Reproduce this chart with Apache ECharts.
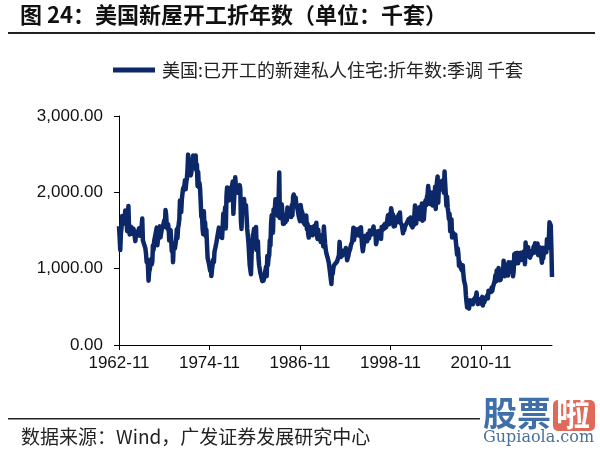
<!DOCTYPE html>
<html>
<head>
<meta charset="utf-8">
<script src="https://cdn.jsdelivr.net/npm/echarts@6/dist/echarts.min.js"></script>
<style>html,body{margin:0;padding:0;background:#fff;}#c{width:600px;height:456px;}</style>
</head>
<body>
<div id="c"></div>
<script>
const seriesName = '美国:已开工的新建私人住宅:折年数:季调 千套';
const startYear = 1962, startMonth = 11;
const values = [
// 1962 (Nov-Dec)
1556,1413,
// 1963
1244,1456,1534,1689,1641,1588,1614,1639,1763,1779,1622,1491,
// 1964
1603,1820,1517,1448,1467,1550,1562,1569,1455,1524,1486,1484,
// 1965
1361,1433,1423,1438,1478,1488,1529,1432,1482,1452,1460,1656,
// 1966
1370,1378,1394,1352,1265,1194,1086,1119,1046,843,961,990,
// 1967
1067,1123,1056,1091,1304,1248,1364,1407,1421,1491,1538,1308,
// 1968
1380,1520,1466,1554,1408,1405,1512,1495,1556,1569,1630,1548,
// 1969
1769,1705,1561,1524,1583,1528,1368,1358,1507,1381,1229,1327,
// 1970
1085,1305,1319,1264,1290,1385,1517,1399,1534,1580,1647,1893,
// 1971
1828,1741,1910,1986,2049,2026,2083,2158,2041,2128,2182,2295,
// 1972
2494,2390,2334,2249,2221,2254,2252,2382,2481,2485,2421,2366,
// 1973
2481,2289,2365,2084,2266,2067,2123,2051,1874,1677,1724,1526,
// 1974
1451,1752,1555,1607,1426,1513,1316,1142,1150,1070,1026,975,
// 1975
1032,904,993,1005,1121,1087,1226,1260,1264,1344,1360,1321,
// 1976
1367,1538,1421,1395,1459,1495,1401,1550,1720,1629,1641,1804,
// 1977
1527,1943,2063,1892,1971,1893,2058,2020,1949,2042,2042,2142,
// 1978
1718,1738,2032,2197,2075,2070,2092,1996,1970,1981,2094,2044,
// 1979
1630,1520,1847,1748,1876,1913,1760,1778,1832,1681,1524,1498,
// 1980
1341,1350,1047,1051,927,1196,1269,1436,1471,1523,1510,1482,
// 1981
1547,1246,1306,1360,1140,1045,1041,940,911,873,837,910,
// 1982
843,866,931,917,1025,902,1166,1046,1144,1173,1372,1303,
// 1983
1586,1699,1606,1472,1776,1733,1785,1910,1710,1715,1785,1688,
// 1984
1897,2260,1663,1851,1774,1843,1732,1586,1698,1590,1689,1612,
// 1985
1711,1632,1800,1821,1680,1676,1684,1743,1676,1834,1698,1942,
// 1986
1972,1848,1876,1933,1854,1847,1782,1807,1687,1681,1623,1833,
// 1987
1774,1784,1726,1614,1628,1594,1575,1605,1695,1515,1589,1459,
// 1988
1407,1549,1551,1547,1450,1541,1438,1469,1512,1563,1547,1496,
// 1989
1603,1427,1388,1511,1389,1441,1412,1350,1330,1388,1443,1292,
// 1990
1551,1428,1324,1245,1200,1222,1142,1134,1070,1046,1093,1054,
// 1991
798,965,931,1003,1043,1019,1063,1027,1030,1094,1070,1085,
// 1992
1178,1351,1240,1153,1162,1146,1139,1187,1239,1199,1199,1270,
// 1993
1192,1111,1099,1171,1216,1226,1264,1309,1297,1351,1369,1536,
// 1994
1376,1352,1519,1469,1438,1450,1430,1494,1526,1432,1482,1543,
// 1995
1398,1294,1228,1288,1286,1295,1430,1392,1388,1359,1458,1450,
// 1996
1398,1500,1494,1500,1447,1474,1494,1552,1451,1447,1490,1320,
// 1997
1355,1486,1457,1492,1442,1494,1437,1390,1546,1520,1510,1566,
// 1998
1525,1584,1567,1540,1536,1641,1698,1614,1582,1715,1660,1792,
// 1999
1748,1670,1710,1553,1611,1559,1669,1648,1635,1608,1648,1708,
// 2000
1636,1737,1604,1626,1575,1559,1463,1541,1507,1549,1551,1532,
// 2001
1600,1625,1590,1649,1605,1636,1670,1567,1562,1540,1602,1568,
// 2002
1698,1829,1642,1592,1764,1717,1655,1633,1804,1648,1753,1788,
// 2003
1853,1629,1726,1643,1751,1867,1897,1833,1939,1967,2083,2057,
// 2004
1911,1846,1998,2003,1981,1828,2002,2024,1905,2072,1782,2042,
// 2005
2144,2207,1864,2061,2025,2068,2054,2095,2151,2065,2147,1994,
// 2006
2273,2119,1969,1821,1942,1802,1737,1650,1720,1491,1570,1649,
// 2007
1409,1480,1495,1490,1415,1448,1354,1330,1183,1264,1197,1037,
// 2008
1084,1103,1005,1013,973,1046,923,844,820,777,652,560,
// 2009
490,582,505,478,540,585,594,586,585,534,588,581,
// 2010
614,604,636,687,583,536,546,599,594,543,545,539,
// 2011
630,517,600,554,561,608,623,585,650,610,711,694,
// 2012
723,704,695,753,708,757,740,754,847,915,833,976,
// 2013
888,962,1010,847,915,852,883,898,863,936,1105,1003,
// 2014
902,952,962,1052,987,909,1085,961,1025,1081,1007,1080,
// 2015
1071,900,963,1190,1058,1201,1151,1132,1207,1071,1188,1155,
// 2016
1114,1208,1113,1178,1136,1195,1223,1156,1058,1343,1162,1229,
// 2017
1236,1281,1182,1175,1144,1228,1178,1172,1159,1257,1294,1210,
// 2018
1334,1290,1327,1276,1329,1177,1184,1280,1237,1209,1187,1078,
// 2019
1273,1134,1199,1270,1269,1264,1215,1386,1274,1340,1383,1608,
// 2020 (Jan-Apr)
1617,1567,1276,891
];
// month labels built from start month, one per value
const categories = [];
{
  let y = startYear, m = startMonth;
  for (let i = 0; i < values.length; i++) {
    categories.push(y + '-' + (m < 10 ? '0' + m : m));
    m++; if (m > 12) { m = 1; y++; }
  }
}
const yMin = 0, yMax = 3000, yStep = 1000;
const labelEvery = 144;

const chart = echarts.init(document.getElementById('c'), null, {renderer: 'canvas'});
const fmt = v => Number(v).toLocaleString('en-US', {minimumFractionDigits: 2, maximumFractionDigits: 2});
const latin = 'Arial';
const cjk = 'Noto Sans CJK SC';
chart.setOption({
  animation: false,
  backgroundColor: '#fff',
  grid: {left: 119, right: 48, top: 116, bottom: 111, containLabel: false},
  legend: {
    show: true, left: 113, top: 61, padding: 0, icon: 'rect', itemWidth: 42, itemHeight: 5, itemGap: 6,
    textStyle: {fontFamily: cjk, fontSize: 18, color: '#222', padding: [0, 0, 0, 2]},
    data: [seriesName]
  },
  xAxis: {
    type: 'category', data: categories, boundaryGap: false,
    axisLine: {lineStyle: {color: '#000', width: 1}},
    axisTick: {interval: labelEvery - 1, length: 5, lineStyle: {color: '#000'}},
    axisLabel: {interval: labelEvery - 1, color: '#111', fontFamily: latin, fontSize: 17, margin: 10},
    splitLine: {show: false}
  },
  yAxis: {
    type: 'value', min: yMin, max: yMax, interval: yStep,
    axisLine: {show: true, lineStyle: {color: '#000', width: 1}},
    axisTick: {show: true, length: 5, lineStyle: {color: '#000'}},
    axisLabel: {formatter: fmt, color: '#111', fontFamily: latin, fontSize: 17, margin: 16},
    splitLine: {show: false}
  },
  series: [{
    name: seriesName, type: 'line', data: values, showSymbol: false, symbol: 'none',
    lineStyle: {color: '#0d2869', width: 4.5, join: 'round'},
    itemStyle: {color: '#0d2869'}
  }],
  graphic: [
    {type: 'text', left: 20, top: 4, style: {text: '图 24：美国新屋开工折年数（单位：千套）', font: 'bold 22px "Noto Sans CJK SC"', fill: '#111'}},
    {type: 'rect', shape: {x: 8, y: 32, width: 587, height: 2}, style: {fill: '#222'}},
    {type: 'rect', shape: {x: 8, y: 418, width: 472, height: 1.5}, style: {fill: '#222'}},
    {type: 'text', left: 21, top: 427, style: {text: '数据来源：Wind，广发证券发展研究中心', font: '19px "Noto Sans CJK SC"', fill: '#222'}},
    {type: 'text', left: 483, top: 396, style: {text: '股票', font: 'bold 34px "Noto Sans CJK SC"', fill: '#3e6fa8'}},
    {type: 'rect', shape: {x: 553, y: 400, width: 42, height: 31, r: 5}, style: {fill: '#e06a5a'}},
    {type: 'text', left: 556, top: 396, style: {text: '啦', font: 'bold 34px "Noto Sans CJK SC"', fill: '#fff'}},
    {type: 'text', left: 483, top: 430, style: {text: 'Gupiaola.com', font: '16px "DejaVu Serif"', fill: '#4a6f9a'}}
  ]
});
</script>
</body>
</html>
